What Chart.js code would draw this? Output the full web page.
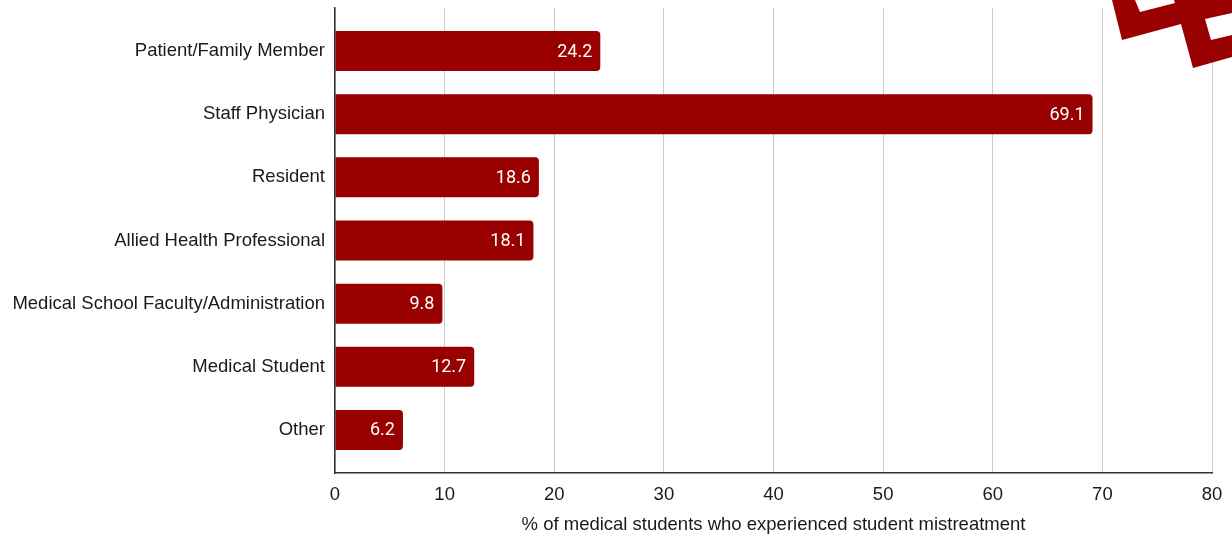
<!DOCTYPE html>
<html>
<head>
<meta charset="utf-8">
<script src="https://cdn.jsdelivr.net/npm/chart.js@4"></script>
<style>
  html, body { margin: 0; padding: 0; background: #fff; }
  #grafico { display: block; }
</style>
</head>
<body>
<canvas id="grafico" width="1232" height="537"></canvas>
<script>
// categorias y valores
const categorias = [
  "Patient/Family Member",
  "Staff Physician",
  "Resident",
  "Allied Health Professional",
  "Medical School Faculty/Administration",
  "Medical Student",
  "Other"
];
const valores = [24.2, 69.1, 18.6, 18.1, 9.8, 12.7, 6.2];
const ticksX = [0, 10, 20, 30, 40, 50, 60, 70, 80];
const tituloX = "% of medical students who experienced student mistreatment";

const rojo = "#990000";
const fuente = "Liberation Sans";

// etiquetas de valor dentro de la barra
const etiquetasBarra = {
  id: "etiquetasBarra",
  afterDatasetsDraw(chart) {
    const ctx = chart.ctx;
    const meta = chart.getDatasetMeta(0);
    ctx.save();
    ctx.fillStyle = "#ffffff";
    ctx.font = "18px Roboto";
    ctx.textAlign = "right";
    ctx.textBaseline = "middle";
    meta.data.forEach((bar, i) => {
      ctx.fillText(valores[i].toFixed(1), bar.x - 8, bar.y + 1);
    });
    ctx.restore();
  }
};

// logo recortado arriba a la derecha (decorativo)
const logo = {
  id: "logo",
  afterDraw(chart) {
    const ctx = chart.ctx;
    ctx.save();
    ctx.fillStyle = rojo;
    ctx.beginPath();
    ctx.moveTo(1112, 0);
    ctx.lineTo(1122, 40);
    ctx.lineTo(1181, 24);
    ctx.lineTo(1193, 68);
    ctx.lineTo(1232, 57);
    ctx.lineTo(1232, 0);
    ctx.closePath();
    ctx.fill();
    ctx.fillStyle = "#ffffff";
    ctx.beginPath();
    ctx.moveTo(1135, 0);
    ctx.lineTo(1140, 12);
    ctx.lineTo(1175, 3);
    ctx.lineTo(1174, 0);
    ctx.closePath();
    ctx.fill();
    ctx.beginPath();
    ctx.moveTo(1205, 19);
    ctx.lineTo(1211, 40);
    ctx.lineTo(1232, 35);
    ctx.lineTo(1232, 13);
    ctx.closePath();
    ctx.fill();
    ctx.restore();
  }
};

const datos = valores.map((v, i) => ({ x: v, y: i }));

new Chart(document.getElementById("grafico").getContext("2d"), {
  type: "bar",
  data: {
    datasets: [{
      data: datos,
      backgroundColor: rojo,
      borderRadius: 4,
      borderSkipped: "start",
      barPercentage: 1,
      categoryPercentage: 0.633
    }]
  },
  options: {
    indexAxis: "y",
    responsive: false,
    animation: false,
    layout: { padding: { top: 8, right: 20, left: 0, bottom: 0 } },
    plugins: {
      legend: { display: false },
      tooltip: { enabled: false }
    },
    scales: {
      x: {
        type: "linear",
        min: ticksX[0],
        max: ticksX[ticksX.length - 1],
        afterBuildTicks: s => { s.ticks = ticksX.map(v => ({ value: v })); },
        afterFit: s => { s.height = 64; s.paddingLeft = 0; s.paddingRight = 0; },
        grid: { color: "#cccccc", lineWidth: 1, drawTicks: false },
        border: { display: true, color: "#333333", width: 1.5 },
        ticks: {
          padding: 11,
          color: "#1a1a1a",
          font: { family: fuente, size: 18.5 }
        },
        title: {
          display: true,
          text: tituloX,
          color: "#1a1a1a",
          font: { family: fuente, size: 18.5 },
          padding: { top: 4, bottom: 1 }
        }
      },
      y: {
        type: "linear",
        reverse: true,
        offset: false,
        min: -0.681,
        max: categorias.length - 1 + 0.681,
        afterBuildTicks: s => { s.ticks = categorias.map((c, i) => ({ value: i })); },
        afterFit: s => { s.width = 335; s.paddingTop = 0; s.paddingBottom = 0; },
        grid: { display: false, drawTicks: false },
        border: { display: true, color: "#333333", width: 1.5 },
        ticks: {
          autoSkip: false,
          padding: 10,
          color: "#1a1a1a",
          font: { family: fuente, size: 18.5 },
          callback: v => categorias[v]
        }
      }
    }
  },
  plugins: [etiquetasBarra, logo]
});
</script>
</body>
</html>
